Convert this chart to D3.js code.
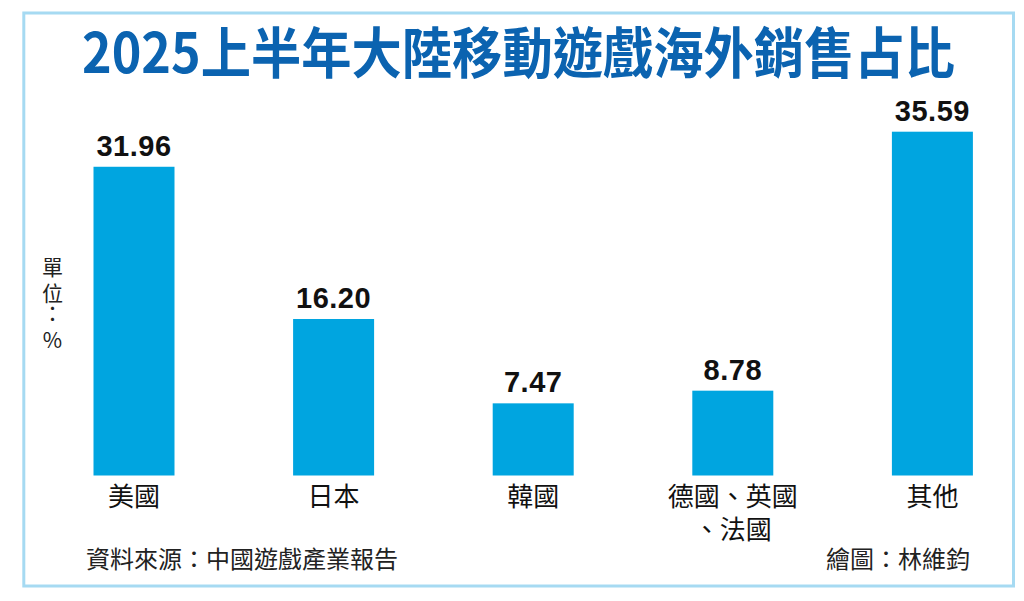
<!DOCTYPE html>
<html>
<head>
<meta charset="utf-8">
<script src="https://cdn.jsdelivr.net/npm/d3@7"></script>
<style>
  html, body { margin: 0; padding: 0; background: #ffffff; }
  svg { display: block; }
</style>
</head>
<body>
<svg id="chart" width="1024" height="601"></svg>
<script>
const titleText = "2025上半年大陸移動遊戲海外銷售占比";
const categories = ["美國", "日本", "韓國", "德國、英國\n、法國", "其他"];
const values = [31.96, 16.20, 7.47, 8.78, 35.59];
const valueLabels = ["31.96", "16.20", "7.47", "8.78", "35.59"];
const unitChars = ["單", "位", "：", "%"];
const sourceText = "資料來源：中國遊戲產業報告";
const creditText = "繪圖：林維鈞";

const svg = d3.select("#chart");
const cjk = "'Noto Sans CJK TC', 'Noto Sans CJK SC', sans-serif";

svg.append("rect").attr("x", 0).attr("y", 0).attr("width", 1024).attr("height", 601).attr("fill", "#fff");

// border
svg.append("rect")
  .attr("x", 23.8).attr("y", 13).attr("width", 989.7).attr("height", 573)
  .attr("fill", "none").attr("stroke", "#a6daf2").attr("stroke-width", 3);

// title
svg.append("text")
  .attr("x", 518.5).attr("y", 73)
  .attr("text-anchor", "middle")
  .attr("font-family", cjk)
  .attr("font-weight", 700)
  .attr("font-size", 55)
  .attr("fill", "#0b63b0")
  .attr("textLength", 873)
  .attr("lengthAdjust", "spacingAndGlyphs")
  .text(titleText);

const x = d3.scalePoint().domain(categories).range([34.2, 1032.2]).padding(0.5);
const y = d3.scaleLinear().domain([0, 40]).range([475.5, 89.1]);
const barW = 81;

const data = categories.map((c, i) => ({ c, v: values[i], label: valueLabels[i] }));

svg.append("g").selectAll("rect").data(data).join("rect")
  .attr("x", d => x(d.c) - barW / 2)
  .attr("y", d => y(d.v))
  .attr("width", barW)
  .attr("height", d => y(0) - y(d.v))
  .attr("fill", "#00a5e0");

svg.append("g").selectAll("text").data(data).join("text")
  .attr("x", d => x(d.c))
  .attr("y", d => y(d.v) - 11)
  .attr("text-anchor", "middle")
  .attr("font-family", "'Liberation Sans', Arial, sans-serif")
  .attr("font-weight", 700)
  .attr("font-size", 29)
  .attr("letter-spacing", 0.5)
  .attr("fill", "#111")
  .text(d => d.label);

// category labels
const catG = svg.append("g");
data.forEach(d => {
  const t = catG.append("text")
    .attr("text-anchor", "middle")
    .attr("font-family", cjk)
    .attr("font-size", 26)
    .attr("fill", "#111");
  d.c.split("\n").forEach((line, j) => {
    t.append("tspan").attr("x", x(d.c)).attr("y", 506 + j * 33).text(line);
  });
});

// unit label (vertical, one text element)
const unitY = [275, 301, 321, 348];
const unitT = svg.append("text")
  .attr("text-anchor", "middle")
  .attr("font-family", cjk)
  .attr("font-size", 21)
  .attr("fill", "#222");
unitT.selectAll("tspan").data(unitChars).join("tspan")
  .attr("x", 52.5)
  .attr("y", (d, i) => unitY[i])
  .text(d => d);

// footer
svg.append("text")
  .attr("x", 86).attr("y", 568)
  .attr("font-family", cjk).attr("font-size", 24).attr("fill", "#222")
  .text(sourceText);
svg.append("text")
  .attr("x", 970).attr("y", 568)
  .attr("text-anchor", "end")
  .attr("font-family", cjk).attr("font-size", 24).attr("fill", "#222")
  .text(creditText);
</script>
</body>
</html>
